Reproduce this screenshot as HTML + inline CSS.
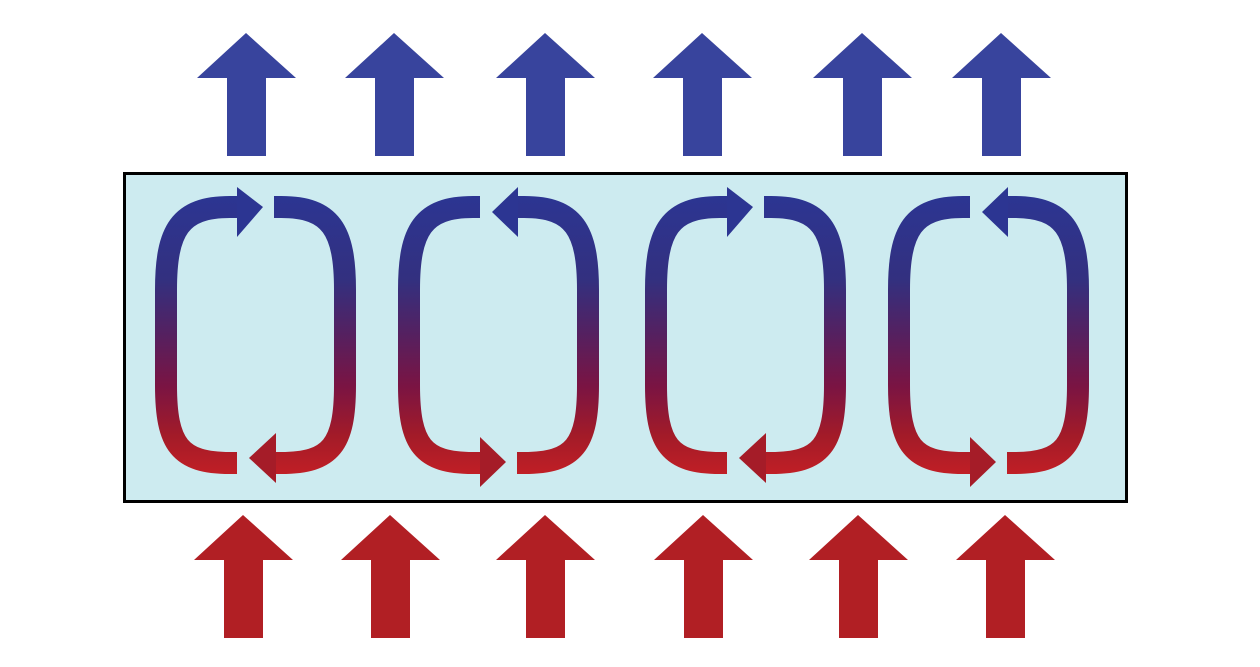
<!DOCTYPE html>
<html><head><style>html,body{margin:0;padding:0;background:#fff}svg{display:block}</style></head>
<body>
<svg width="1260" height="667" viewBox="0 0 1260 667" xmlns="http://www.w3.org/2000/svg">
<defs>
<linearGradient id="g" gradientUnits="userSpaceOnUse" x1="0" y1="197" x2="0" y2="475">
<stop offset="0" stop-color="#2c3592"/>
<stop offset="0.3" stop-color="#33307f"/>
<stop offset="0.5" stop-color="#56205f"/>
<stop offset="0.68" stop-color="#7a1443"/>
<stop offset="0.86" stop-color="#a31b28"/>
<stop offset="1" stop-color="#c11f26"/>
</linearGradient>
<symbol id="up" overflow="visible"><polygon points="0,0 50,45 20,45 20,123 -19,123 -19,45 -49,45"/></symbol>
</defs>
<g fill="#38449d">
<use href="#up" x="246" y="33"/><use href="#up" x="394" y="33"/><use href="#up" x="545" y="33"/>
<use href="#up" x="702" y="33"/><use href="#up" x="862" y="33"/><use href="#up" x="1001" y="33"/>
</g>
<g fill="#b11f24">
<use href="#up" x="243" y="515"/><use href="#up" x="390" y="515"/><use href="#up" x="545" y="515"/>
<use href="#up" x="703" y="515"/><use href="#up" x="858" y="515"/><use href="#up" x="1005" y="515"/>
</g>
<rect x="124.5" y="173.5" width="1002" height="328" fill="#cdebf0" stroke="#000" stroke-width="3"/>

<g id="cA">
<path d="M237,207 H230 C180,207 166,230 166,290 V385 C166,445 180,463 230,463 H237" fill="none" stroke="url(#g)" stroke-width="22"/>
<path d="M274,207 H281 C331,207 345,230 345,290 V385 C345,445 331,463 281,463 H276" fill="none" stroke="url(#g)" stroke-width="22"/>
<polygon points="237,187 263,207 237,237" fill="#2c3592"/>
<polygon points="276,433 249,458 276,483" fill="#a51c28"/>
</g>
<g id="cB" transform="translate(243,0)">
<path d="M237,207 H230 C180,207 166,230 166,290 V385 C166,445 180,463 230,463 H237" fill="none" stroke="url(#g)" stroke-width="22"/>
<path d="M274,207 H281 C331,207 345,230 345,290 V385 C345,445 331,463 281,463 H274" fill="none" stroke="url(#g)" stroke-width="22"/>
<polygon points="275,187 249,212 275,237" fill="#2c3592"/>
<polygon points="237,437 263,462 237,487" fill="#a51c28"/>
</g>
<use href="#cA" x="490"/>
<use href="#cB" x="490"/>
</svg>
</body></html>
